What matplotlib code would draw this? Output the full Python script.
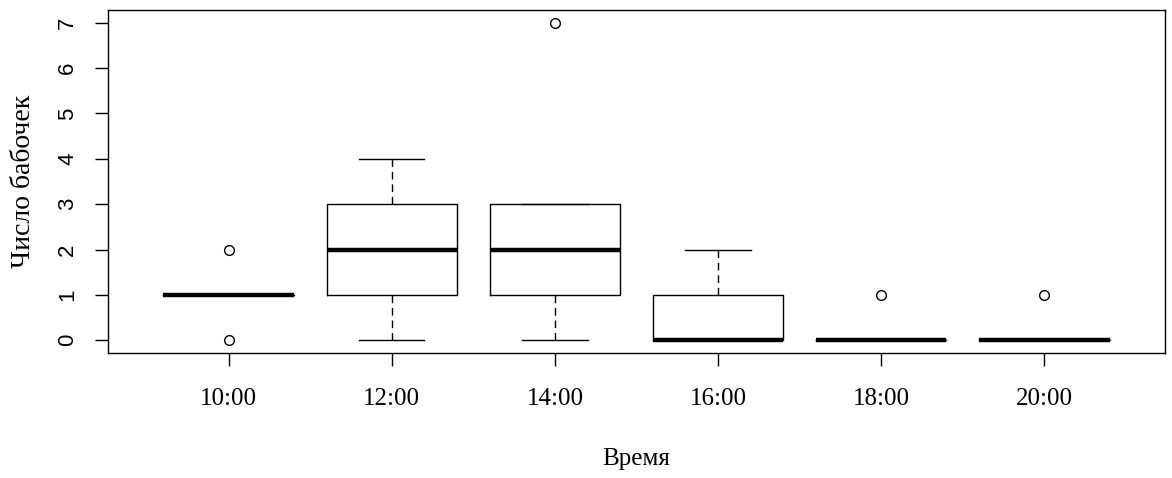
import matplotlib
matplotlib.use("Agg")
import matplotlib.pyplot as plt

categories = ["10:00", "12:00", "14:00", "16:00", "18:00", "20:00"]
whislo = [1, 0, 0, 0, 0, 0]
q1 = [1, 1, 1, 0, 0, 0]
med = [1, 2, 2, 0, 0, 0]
q3 = [1, 3, 3, 1, 0, 0]
whishi = [1, 4, 3, 2, 0, 0]
fliers = [[0, 2], [], [7], [], [1], [1]]
yticks = [0, 1, 2, 3, 4, 5, 6, 7]

serif = ["Liberation Serif", "DejaVu Serif"]
sans = ["Liberation Sans", "DejaVu Sans"]

fig = plt.figure(figsize=(11.72, 4.78), dpi=100)
ax = fig.add_axes([108/1172, 1-353/478, (1165-108)/1172, (353-10)/478])

stats = []
for i, c in enumerate(categories):
    stats.append(dict(label=c, whislo=whislo[i], q1=q1[i], med=med[i],
                      q3=q3[i], whishi=whishi[i], fliers=fliers[i]))

positions = list(range(1, len(categories) + 1))
ax.bxp(stats, positions=positions, widths=0.8, showfliers=True,
       boxprops=dict(color="black", linewidth=1.0),
       medianprops=dict(color="black", linewidth=3.2, solid_capstyle="butt"),
       whiskerprops=dict(color="black", linewidth=1.0, linestyle=(0, (5.5, 3.5))),
       capprops=dict(color="black", linewidth=1.0),
       capwidths=0.4,
       flierprops=dict(marker="o", markerfacecolor="none", markeredgecolor="black",
                       markersize=7, markeredgewidth=1.0))

ax.set_xlim(0.26, 6.74)
ax.set_ylim(-0.28, 7.28)
ax.set_xticks(positions)
ax.set_xticklabels(categories, fontfamily=serif, fontsize=18)
ax.set_yticks(yticks)
ax.set_yticklabels([str(v) for v in yticks], fontfamily=sans, fontsize=16,
                   rotation=90, va="center")
ax.tick_params(axis="x", direction="out", length=9.5, width=1.0, pad=16)
ax.tick_params(axis="y", direction="out", length=9.5, width=1.0, pad=12)
for s in ax.spines.values():
    s.set_linewidth(1.0)

ax.set_xlabel("Время", fontfamily=serif, fontsize=18, labelpad=27)
ax.set_ylabel("Число бабочек", fontfamily=serif, fontsize=20, labelpad=15)

fig.savefig("out.png", dpi=100)
